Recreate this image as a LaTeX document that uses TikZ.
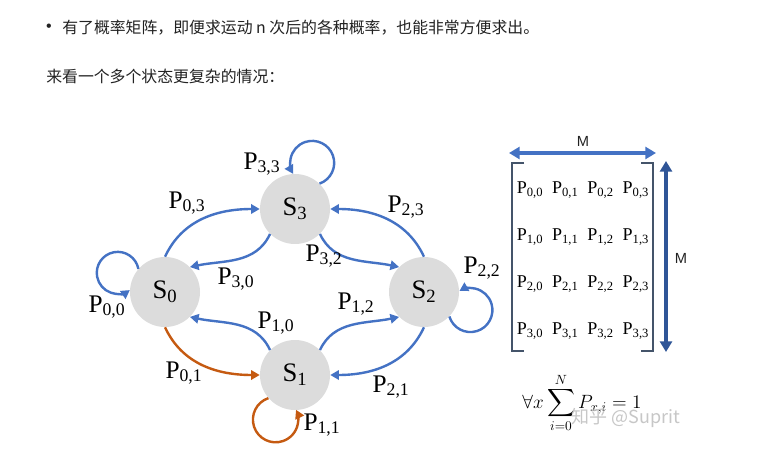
\documentclass[tikz,border=0pt]{standalone}
\usepackage{fontspec}
\usepackage{amsmath,amssymb}
\setmainfont{Liberation Serif}
\setsansfont{Liberation Sans}
\newfontfamily\cjk{Noto Sans CJK SC}
\usetikzlibrary{arrows.meta,positioning}
\definecolor{cBlue}{HTML}{4472C4}
\definecolor{cDeep}{HTML}{2F5597}
\definecolor{cRust}{HTML}{C55A11}
\definecolor{cDisc}{HTML}{DCDCDC}
\definecolor{cInk}{HTML}{222222}
\definecolor{cBrack}{HTML}{44546A}
\tikzset{
  >={Triangle[length=6.5pt,width=7pt]},
  state/.style ={circle,fill=cDisc,minimum size=52.5pt,inner sep=0pt,
                 font=\fontsize{20}{22}\selectfont},
  plab/.style  ={font=\fontsize{19}{22}\selectfont,inner sep=0pt},
  ment/.style  ={font=\fontsize{13.5}{16}\selectfont,inner sep=0pt},
  ed/.style    ={->,line width=1.8pt,cBlue},
  edo/.style   ={->,line width=1.8pt,cRust},
  txt/.style   ={font=\cjk\fontsize{11.9}{14}\selectfont,text=cInk,
                 anchor=west,inner sep=0pt},
  brk/.style   ={line width=1.5pt,cBrack},
  mlab/.style  ={font=\sffamily\fontsize{11}{13}\selectfont,text=cInk,inner sep=0pt},
}

\begin{document}
\begin{tikzpicture}[x=0.75pt,y=0.75pt]
\useasboundingbox[fill=white] (0,0) rectangle (780,-466);
% page text
\node[font=\sffamily\fontsize{12}{14}\selectfont,text=cInk,inner sep=0pt] (bul) at (49,-28) {•};
\node[txt] (line1) at (62,-28) {有了概率矩阵，即便求运动 n 次后的各种概率，也能非常方便求出。};
\node[txt] (line2) at (46,-76) {来看一个多个状态更复杂的情况：};
% states
\node[state] (s3) at (295,-209) {S\textsubscript{3}};
\node[state] (s0) at (165,-292) {S\textsubscript{0}};
\node[state] (s2) at (424,-292) {S\textsubscript{2}};
\node[state] (s1) at (295,-375) {S\textsubscript{1}};
% transitions
\draw[ed]  (s0.90)  to[out=65,in=180]   (s3.180);
\draw[ed]  (s3.225) to[out=245,in=12]   (s0.45);
\draw[ed]  (s3.-45) to[out=-65,in=168]  (s2.135);
\draw[ed]  (s2.90)  to[out=115,in=0]    (s3.0);
\draw[ed]  (s1.135) to[out=115,in=-12]  (s0.-45);
\draw[edo] (s0.-90) to[out=-65,in=180]  (s1.180);
\draw[ed]  (s1.45)  to[out=65,in=192]   (s2.225);
\draw[ed]  (s2.-90) to[out=-115,in=0]   (s1.0);
% self loops
\draw[ed]  (s3.46)  arc[start angle=-70.6,end angle=210,radius=16.5pt];
\draw[ed]  (s0.139) arc[start angle=11,end angle=305,radius=15.75pt];
\draw[ed]  (s2.-44) arc[start angle=197,end angle=480,radius=16.5pt];
\draw[edo] (s1.221) arc[start angle=108.5,end angle=385.7,radius=17pt];
% labels
\node[plab] (l33) at (262,-164) {P\textsubscript{3,3}};
\node[plab] (l03) at (187,-203) {P\textsubscript{0,3}};
\node[plab] (l30) at (236,-279) {P\textsubscript{3,0}};
\node[plab] (l00) at (107,-307) {P\textsubscript{0,0}};
\node[plab] (l32) at (324,-256) {P\textsubscript{3,2}};
\node[plab] (l23) at (406,-207) {P\textsubscript{2,3}};
\node[plab] (l22) at (482,-268) {P\textsubscript{2,2}};
\node[plab] (l12) at (356,-304) {P\textsubscript{1,2}};
\node[plab] (l10) at (276,-323) {P\textsubscript{1,0}};
\node[plab] (l01) at (184,-373) {P\textsubscript{0,1}};
\node[plab] (l21) at (391,-387) {P\textsubscript{2,1}};
\node[plab] (l11) at (322,-425) {P\textsubscript{1,1}};
% transition matrix
\foreach \r in {0,...,3}
  \foreach \c in {0,...,3}
    \node[ment] (m\r\c) at ({530+35.3*\c},{-190-47*\r}) {P\textsubscript{\r,\c}};
\draw[brk] (524,-163) -- (512,-163) -- (512,-351) -- (524,-351);
\draw[brk] (641,-163) -- (653,-163) -- (653,-351) -- (641,-351);
\coordinate (hl) at (509,-153);
\coordinate (hr) at (656,-153);
\coordinate (vt) at (666,-161);
\coordinate (vb) at (666,-352);
\draw[<->,line width=2.4pt,cBlue,>={Triangle[length=8pt,width=9pt]}] (hl) -- (hr);
\draw[<->,line width=2.4pt,cDeep,>={Triangle[length=8pt,width=9pt]}] (vt) -- (vb);
\node[mlab] (mtop) at (583,-141) {M};
\node[mlab] (mside) at (681,-258) {M};
% normalisation
\node[font=\fontsize{14.5}{17}\selectfont,inner sep=0pt] (sum) at (582,-403)
  {$\forall x \displaystyle\sum_{i=0}^{N} P_{x,i} = 1$};
\node[font=\cjk\fontsize{13.5}{16}\selectfont,text=black!22,inner sep=0pt] (wm) at (626,-418) {知乎 @Suprit};
\end{tikzpicture}
\end{document}
